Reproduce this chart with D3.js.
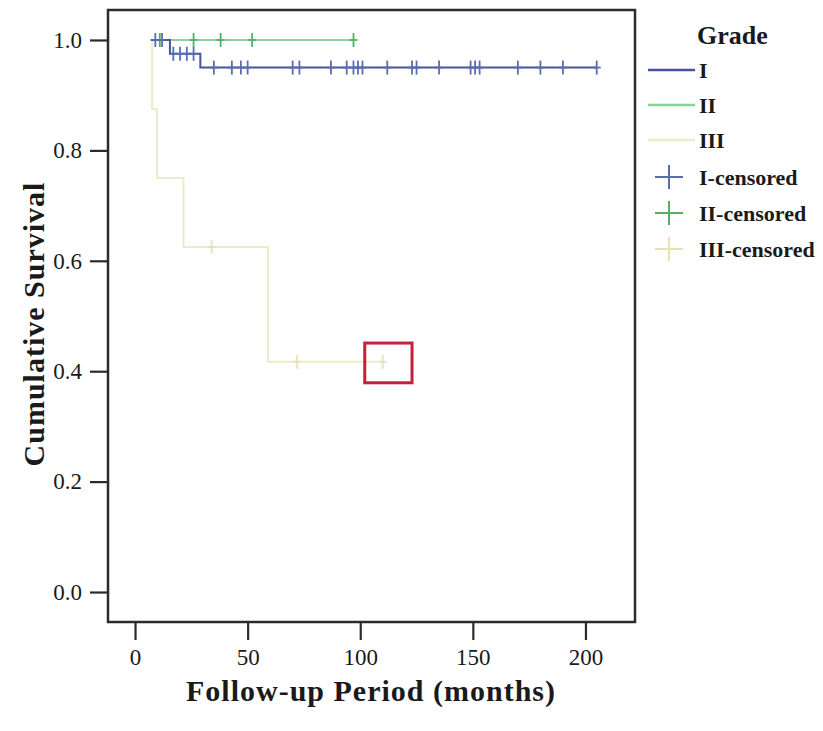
<!DOCTYPE html>
<html><head><meta charset="utf-8">
<script src="https://cdn.jsdelivr.net/npm/d3@7"></script>
<style>body{margin:0;background:#fff;} svg{display:block;}</style>
</head><body>
<script>
// ---- data ----
const xTicks = [0, 50, 100, 150, 200];
const yTicks = [0.0, 0.2, 0.4, 0.6, 0.8, 1.0];
const groups = ["I", "II", "III"];
const iTimes = [7, 15.5, 29, 205];
const iSurv  = [1, 0.975, 0.95, 0.95];
const iCens  = [9, 12, 17, 20, 23, 26, 35, 43, 47, 50, 70, 73, 87, 94, 97, 99, 101, 112, 123, 125, 135, 149, 151, 153, 170, 180, 190, 205];
const iiTimes = [7, 97];
const iiSurv  = [1, 1];
const iiCens  = [11, 26, 38, 52, 97];
const iiiTimes = [7, 7.6, 9.8, 21.5, 59, 110];
const iiiSurv  = [1, 0.875, 0.75, 0.625, 0.417, 0.417];
const iiiCens  = [34, 72, 110];
const legendLabels = ["I", "II", "III", "I-censored", "II-censored", "III-censored"];
const highlightX = [102, 123];
const highlightY = [0.379, 0.451];

const colors = {I: "#46559a", II: "#8ad39a", III: "#eeebc8"};
const censColors = {I: "#5a6db2", II: "#52b066", III: "#e6e2b8"};

const W = 823, H = 731;
const svg = d3.select("body").append("svg").attr("width", W).attr("height", H);
const mLeft = 108, mRight = 635, mTop = 10, mBottom = 622;
const x = d3.scaleLinear().domain([-12, 222]).range([mLeft, mRight]);
const y = d3.scaleLinear().domain([-0.0543, 1.0543]).range([mBottom, mTop]);

const serif = "'Liberation Serif', 'DejaVu Serif', serif";

// series
const series = [
  {g: "I", t: iTimes, s: iSurv, c: iCens},
  {g: "II", t: iiTimes, s: iiSurv, c: iiCens},
  {g: "III", t: iiiTimes, s: iiiSurv, c: iiiCens}
];
function survAt(ser, tt) {
  let v = ser.s[0];
  for (let k = 0; k < ser.t.length; k++) if (ser.t[k] <= tt) v = ser.s[k];
  return v;
}
const line = d3.line().x(d => x(d[0])).y(d => y(d[1])).curve(d3.curveStepAfter);
const plot = svg.append("g");
[series[2], series[1], series[0]].forEach(ser => {
  const pts = ser.t.map((tt, k) => [tt, ser.s[k]]);
  plot.append("path").attr("d", line(pts)).attr("fill", "none")
    .attr("stroke", colors[ser.g]).attr("stroke-width", 2);
  ser.c.forEach(ct => {
    const cx = x(ct), cy = y(survAt(ser, ct));
    plot.append("line").attr("x1", cx).attr("x2", cx).attr("y1", cy - 7).attr("y2", cy + 7)
      .attr("stroke", censColors[ser.g]).attr("stroke-width", 1.8);
    plot.append("line").attr("x1", cx - 4).attr("x2", cx + 4).attr("y1", cy).attr("y2", cy)
      .attr("stroke", censColors[ser.g]).attr("stroke-width", 1.8);
  });
});

// highlight box
svg.append("rect")
  .attr("x", x(highlightX[0])).attr("y", y(highlightY[1]))
  .attr("width", x(highlightX[1]) - x(highlightX[0]))
  .attr("height", y(highlightY[0]) - y(highlightY[1]))
  .attr("fill", "none").attr("stroke", "#c4213c").attr("stroke-width", 3);

// frame
svg.append("rect").attr("x", mLeft).attr("y", mTop).attr("width", mRight - mLeft).attr("height", mBottom - mTop)
  .attr("fill", "none").attr("stroke", "#2b2b2b").attr("stroke-width", 2.5);

// axes
const xAxis = svg.append("g").attr("transform", `translate(0,${mBottom})`)
  .call(d3.axisBottom(x).tickValues(xTicks).tickSize(18).tickPadding(8).tickFormat(d3.format("d")));
const yAxis = svg.append("g").attr("transform", `translate(${mLeft},0)`)
  .call(d3.axisLeft(y).tickValues(yTicks).tickSize(18).tickPadding(8).tickFormat(d3.format(".1f")));
[xAxis, yAxis].forEach(a => {
  a.select(".domain").remove();
  a.selectAll(".tick line").attr("stroke", "#2b2b2b").attr("stroke-width", 2.2);
  a.selectAll(".tick text").attr("font-family", serif).attr("font-size", 23).attr("fill", "#1a1a1a");
});
xAxis.selectAll(".tick text").attr("dy", "0.72em");

// axis titles
svg.append("text").attr("x", 371).attr("y", 701).attr("text-anchor", "middle")
  .attr("font-family", serif).attr("font-weight", "bold").attr("font-size", 30).attr("letter-spacing", 1)
  .attr("fill", "#1a1a1a").text("Follow-up Period (months)");
svg.append("text").attr("transform", `translate(44,324) rotate(-90)`).attr("text-anchor", "middle")
  .attr("font-family", serif).attr("font-weight", "bold").attr("font-size", 30).attr("letter-spacing", 1)
  .attr("fill", "#1a1a1a").text("Cumulative Survival");

// legend
const lg = svg.append("g");
lg.append("text").attr("x", 697).attr("y", 44).attr("font-family", serif).attr("font-weight", "bold")
  .attr("font-size", 26).attr("fill", "#1a1a1a").text("Grade");
const legY = [70, 105, 140, 177, 213, 249];
legendLabels.forEach((lab, k) => {
  const g = groups[k % 3];
  const yy = legY[k];
  if (k < 3) {
    lg.append("line").attr("x1", 648).attr("x2", 695).attr("y1", yy).attr("y2", yy)
      .attr("stroke", colors[g]).attr("stroke-width", 2.5);
  } else {
    lg.append("line").attr("x1", 655).attr("x2", 683).attr("y1", yy).attr("y2", yy)
      .attr("stroke", censColors[g]).attr("stroke-width", 2);
    lg.append("line").attr("x1", 669).attr("x2", 669).attr("y1", yy - 12).attr("y2", yy + 12)
      .attr("stroke", censColors[g]).attr("stroke-width", 2);
  }
  lg.append("text").attr("x", 699).attr("y", yy + 8).attr("font-family", serif).attr("font-weight", "bold")
    .attr("font-size", 22).attr("fill", "#1a1a1a").text(lab);
});
</script>
</body></html>
